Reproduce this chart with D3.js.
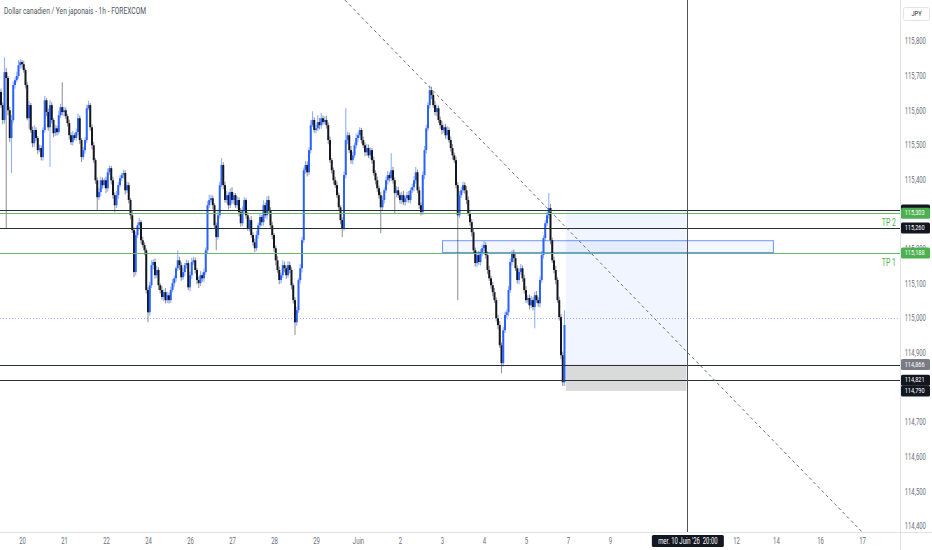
<!DOCTYPE html>
<html>
<head>
<meta charset="utf-8">
<script src="https://cdn.jsdelivr.net/npm/d3@7"></script>
<style>
  body { margin: 0; background: #fff; }
  svg { display: block; }
</style>
</head>
<body>
<div id="chart"></div>
<script>
// CAD/JPY 1h candles (one close per hour, open = previous close)
var title = "Dollar canadien / Yen japonais - 1h - FOREXCOM";
var firstOpen = 115.653;

var closes = [
  115.615, 115.572, 115.710, 115.693, 115.600, 115.520, 115.572, 115.673, 115.687, 115.699, 115.730, 115.739, 115.733, 115.716, 115.673, 115.577, 115.615, 115.543, 115.505, 115.543, 115.520, 115.485, 115.491, 115.465,
  115.543, 115.629, 115.595, 115.551, 115.615, 115.572, 115.534, 115.548, 115.537, 115.586, 115.609, 115.595, 115.600, 115.583, 115.563, 115.528, 115.508, 115.528, 115.520, 115.537, 115.577, 115.514, 115.465, 115.485,
  115.514, 115.606, 115.615, 115.551, 115.499, 115.456, 115.398, 115.349, 115.364, 115.398, 115.384, 115.398, 115.375, 115.421, 115.433, 115.398, 115.355, 115.326, 115.355, 115.384, 115.404, 115.413, 115.419, 115.369,
  115.384, 115.341, 115.297, 115.254, 115.133, 115.240, 115.268, 115.277, 115.225, 115.211, 115.196, 115.081, 115.017, 115.095, 115.153, 115.162, 115.124, 115.139, 115.095, 115.081, 115.061, 115.075, 115.052, 115.066,
  115.052, 115.081, 115.101, 115.115, 115.144, 115.167, 115.153, 115.118, 115.133, 115.153, 115.159, 115.089, 115.124, 115.162, 115.167, 115.139, 115.110, 115.101, 115.124, 115.115, 115.133, 115.196, 115.326, 115.341,
  115.346, 115.326, 115.268, 115.234, 115.297, 115.384, 115.442, 115.384, 115.341, 115.355, 115.326, 115.364, 115.341, 115.355, 115.326, 115.341, 115.306, 115.274, 115.312, 115.341, 115.297, 115.260, 115.283, 115.240,
  115.219, 115.202, 115.240, 115.268, 115.292, 115.277, 115.326, 115.297, 115.341, 115.312, 115.268, 115.240, 115.202, 115.167, 115.139, 115.110, 115.124, 115.153, 115.144, 115.124, 115.153, 115.139, 115.095, 115.052,
  114.988, 115.023, 115.110, 115.144, 115.225, 115.427, 115.442, 115.421, 115.485, 115.557, 115.572, 115.543, 115.548, 115.566, 115.557, 115.577, 115.566, 115.572, 115.557, 115.514, 115.456, 115.427, 115.398, 115.384,
  115.355, 115.320, 115.283, 115.260, 115.413, 115.514, 115.528, 115.485, 115.456, 115.470, 115.499, 115.520, 115.528, 115.543, 115.514, 115.499, 115.479, 115.491, 115.470, 115.485, 115.456, 115.419, 115.398, 115.375,
  115.355, 115.320, 115.341, 115.369, 115.398, 115.413, 115.404, 115.427, 115.398, 115.361, 115.369, 115.355, 115.341, 115.355, 115.335, 115.346, 115.355, 115.341, 115.369, 115.378, 115.398, 115.421, 115.369, 115.326,
  115.306, 115.413, 115.485, 115.548, 115.615, 115.658, 115.644, 115.615, 115.595, 115.606, 115.572, 115.557, 115.543, 115.551, 115.528, 115.543, 115.514, 115.491, 115.470, 115.456, 115.384, 115.297, 115.355, 115.369,
  115.384, 115.369, 115.341, 115.303, 115.277, 115.248, 115.196, 115.159, 115.182, 115.162, 115.191, 115.202, 115.211, 115.182, 115.139, 115.115, 115.095, 115.075, 115.052, 115.000, 114.980, 114.922, 114.870, 114.965,
  115.009, 115.017, 115.081, 115.162, 115.188, 115.173, 115.144, 115.110, 115.133, 115.144, 115.115, 115.081, 115.052, 115.058, 115.037, 115.052, 115.032, 115.066, 115.052, 115.043, 115.110, 115.182, 115.231, 115.274,
  115.297, 115.318, 115.225, 115.167, 115.139, 115.110, 115.052, 115.003, 114.893, 114.815, 114.980
];

// wick lengths above / below the body, in thousandths of a yen
var wickUp = [
  10, 8, 43, 12, 6, 10, 15, 10, 8, 12, 15, 8, 6, 10, 5, 8, 12, 6, 10, 14, 8, 6, 10, 8,
  8, 12, 6, 10, 14, 8, 6, 10, 8, 12, 10, 72, 10, 8, 6, 10, 8, 12, 6, 10, 14, 8, 6, 10,
  8, 10, 12, 6, 8, 10, 6, 8, 12, 10, 8, 6, 10, 12, 8, 6, 10, 8, 12, 10, 8, 6, 10, 8,
  10, 8, 6, 12, 8, 10, 8, 12, 6, 10, 8, 6, 8, 10, 14, 8, 10, 12, 8, 6, 10, 8, 12, 10,
  8, 10, 12, 8, 6, 29, 10, 8, 12, 6, 10, 8, 10, 12, 10, 8, 6, 10, 12, 8, 10, 8, 12, 15,
  10, 8, 6, 8, 12, 10, 20, 8, 10, 12, 8, 10, 14, 8, 6, 10, 8, 12, 10, 8, 6, 10, 8, 12,
  8, 10, 12, 8, 10, 6, 14, 8, 10, 12, 8, 10, 6, 8, 12, 10, 8, 14, 10, 8, 12, 10, 8, 6,
  8, 10, 6, 12, 10, 8, 12, 10, 8, 14, 25, 8, 10, 20, 12, 15, 8, 10, 12, 8, 10, 6, 8, 10,
  10, 8, 6, 8, 10, 92, 10, 8, 12, 10, 8, 12, 10, 8, 6, 10, 8, 12, 10, 8, 6, 10, 8, 10,
  8, 10, 12, 8, 10, 12, 8, 49, 10, 8, 12, 10, 8, 10, 12, 8, 10, 12, 8, 10, 12, 15, 8, 10,
  8, 10, 12, 10, 8, 14, 10, 8, 12, 10, 8, 10, 12, 8, 10, 12, 8, 10, 12, 8, 10, 8, 12, 10,
  10, 8, 12, 10, 8, 10, 12, 8, 10, 12, 8, 10, 12, 8, 10, 12, 8, 10, 12, 8, 10, 12, 8, 10,
  10, 8, 12, 10, 8, 10, 12, 8, 10, 12, 8, 10, 12, 8, 10, 12, 8, 10, 12, 8, 10, 12, 8, 10,
  10, 43, 12, 8, 10, 12, 8, 10, 8, 10, 43
];
var wickDn = [
  8, 12, 10, 436, 14, 12, 101, 8, 10, 6, 8, 10, 12, 8, 10, 6, 30, 8, 12, 10, 8, 12, 6, 10,
  10, 8, 12, 10, 115, 10, 12, 8, 10, 6, 8, 10, 12, 8, 10, 12, 8, 10, 6, 8, 10, 12, 14, 8,
  10, 8, 6, 10, 12, 8, 10, 37, 8, 12, 10, 8, 14, 10, 8, 12, 10, 20, 8, 10, 6, 8, 10, 12,
  8, 10, 12, 8, 15, 10, 8, 12, 10, 8, 14, 10, 29, 10, 8, 12, 10, 8, 14, 10, 8, 12, 10, 8,
  10, 8, 6, 12, 10, 8, 14, 10, 8, 12, 10, 8, 12, 10, 8, 10, 12, 14, 8, 10, 12, 8, 10, 8,
  8, 12, 10, 38, 8, 10, 6, 12, 8, 10, 12, 8, 10, 12, 8, 10, 12, 10, 8, 12, 10, 8, 10, 8,
  10, 12, 8, 10, 8, 12, 10, 8, 12, 10, 8, 12, 10, 14, 8, 12, 10, 8, 12, 10, 8, 10, 12, 10,
  37, 10, 8, 10, 12, 8, 10, 12, 8, 10, 6, 8, 10, 8, 12, 10, 8, 6, 10, 12, 8, 10, 12, 8,
  8, 10, 12, 26, 8, 10, 12, 8, 10, 12, 8, 10, 12, 8, 10, 8, 12, 10, 8, 12, 10, 8, 12, 10,
  10, 75, 8, 10, 8, 12, 10, 8, 10, 58, 12, 8, 10, 12, 8, 10, 12, 8, 10, 8, 12, 10, 8, 10,
  10, 8, 12, 10, 8, 10, 12, 8, 10, 12, 8, 10, 12, 8, 10, 12, 8, 10, 12, 8, 10, 245, 8, 8,
  8, 10, 12, 8, 10, 12, 8, 10, 12, 8, 10, 12, 8, 10, 12, 8, 10, 12, 8, 10, 12, 8, 29, 10,
  8, 10, 12, 8, 10, 12, 8, 10, 12, 8, 10, 10, 8, 10, 12, 8, 10, 61, 8, 10, 12, 8, 10, 8,
  8, 10, 12, 8, 10, 12, 8, 10, 12, 11, 11
];

// bottom axis (positions in trading days)
var dayLabels = ["20", "21", "22", "24", "26", "27", "28", "29", "Juin", "2", "3", "4", "5", "7", "9", "12", "14", "16", "17"];
var dayPos    = [0, 1, 2, 3, 4, 5, 6, 7, 8, 9, 10, 11, 12, 13, 14, 17, 17.95, 19, 20];

var priceTicks = [115.8, 115.7, 115.6, 115.5, 115.4, 115.3, 115.2, 115.1, 115.0, 114.9, 114.8, 114.7, 114.6, 114.5, 114.4];

// drawings
var levels = [
  { p: 115.312, color: "#2a2e39", dash: null },
  { p: 115.303, color: "#66bb6a", dash: null, text: "TP 2" },
  { p: 115.260, color: "#2a2e39", dash: null },
  { p: 115.188, color: "#66bb6a", dash: null, text: "TP 1" },
  { p: 115.000, color: "rgba(41,98,255,0.45)", dash: "1,2" },
  { p: 114.866, color: "#2a2e39", dash: null },
  { p: 114.821, color: "#2a2e39", dash: null }
];
// price tags on the axis; the first one sits under the green TP 2 tag
var axisTags = [
  { p: 115.312, bg: "#131722", hidden: true },
  { p: 115.303, bg: "#4caf50" },
  { p: 115.260, bg: "#131722" },
  { p: 115.188, bg: "#4caf50" },
  { p: 114.866, bg: "#787b86" },
  { p: 114.821, bg: "#131722" },
  { p: 114.790, bg: "#131722" }
];
var trend = [[7.69, 115.918], [20.0, 114.383]];
var position = { from: 12.95, to: 15.82, target: 115.312, entry: 114.866, stop: 114.790 };
var zone = { from: 10, to: 17.88, top: 115.225, bottom: 115.191 };
var cursorDay = 15.83;
var cursorLabel = "mer. 10 Juin '26  20:00";

var W = 932, H = 550, plotW = 900, plotH = 532;
var SX = 0.7; // text is drawn horizontally squeezed, like the screenshot

var x = d3.scaleLinear().domain([0, 20]).range([22, 862]);
var y = d3.scaleLinear().domain([114.4, 115.8]).range([526, 41]);

var fr = d3.formatLocale({ decimal: ",", thousands: " ", grouping: [3], currency: ["", ""] });
var fmt = fr.format(".3f");

var bars = closes.map(function (c, i) {
  var o = i ? closes[i - 1] : firstOpen;
  return {
    d: -0.5 + i / 24,
    o: o,
    c: c,
    h: Math.max(o, c) + wickUp[i] / 1000,
    l: Math.min(o, c) - wickDn[i] / 1000
  };
});

var svg = d3.select("#chart").append("svg").attr("width", W).attr("height", H);

svg.append("defs").append("clipPath").attr("id", "plot")
  .append("rect").attr("width", plotW).attr("height", plotH);

function label(parent, px, py, s, size, color, anchor) {
  return parent.append("text")
    .attr("transform", "translate(" + px + "," + py + ") scale(" + SX + ",1)")
    .attr("text-anchor", anchor || "start")
    .attr("dominant-baseline", "central")
    .attr("font-family", "Roboto, sans-serif")
    .attr("font-size", size + "px")
    .attr("fill", color)
    .style("white-space", "pre")
    .text(s);
}

var plot = svg.append("g").attr("clip-path", "url(#plot)");

// long position tool
plot.append("rect")
  .attr("x", x(position.from)).attr("width", x(position.to) - x(position.from))
  .attr("y", y(position.target)).attr("height", y(position.entry) - y(position.target))
  .attr("fill", "rgba(41,98,255,0.065)");
plot.append("rect")
  .attr("x", x(position.from)).attr("width", x(position.to) - x(position.from))
  .attr("y", y(position.entry)).attr("height", y(position.stop) - y(position.entry))
  .attr("fill", "rgba(120,120,120,0.27)");

// blue rectangle
plot.append("rect")
  .attr("x", x(zone.from) + 0.5).attr("width", x(zone.to) - x(zone.from))
  .attr("y", y(zone.top) + 0.5).attr("height", y(zone.bottom) - y(zone.top))
  .attr("fill", "rgba(41,98,255,0.05)")
  .attr("stroke", "rgba(41,98,255,0.65)")
  .attr("stroke-width", 1);

// candles
var candles = plot.append("g");
candles.selectAll("line.wick")
  .data(bars)
  .enter()
  .append("line")
  .attr("class", "wick")
  .attr("x1", function (b) { return x(b.d); })
  .attr("x2", function (b) { return x(b.d); })
  .attr("y1", function (b) { return y(b.h); })
  .attr("y2", function (b) { return y(b.l); })
  .attr("stroke", function (b) { return b.c >= b.o ? "rgba(41,98,255,0.5)" : "rgba(19,23,34,0.45)"; })
  .attr("stroke-width", 1.1);

candles.selectAll("rect.body")
  .data(bars)
  .enter()
  .append("rect")
  .attr("class", "body")
  .attr("x", function (b) { return x(b.d) - 1; })
  .attr("width", 2)
  .attr("y", function (b) { return y(Math.max(b.o, b.c)); })
  .attr("height", function (b) { return Math.max(1, Math.abs(y(b.o) - y(b.c))); })
  .attr("fill", function (b) { return b.c >= b.o ? "#2962ff" : "#131722"; });

// horizontal levels
plot.selectAll("line.level")
  .data(levels)
  .enter()
  .append("line")
  .attr("class", "level")
  .attr("x1", 0).attr("x2", plotW)
  .attr("y1", function (l) { return Math.round(y(l.p)) + 0.5; })
  .attr("y2", function (l) { return Math.round(y(l.p)) + 0.5; })
  .attr("stroke", function (l) { return l.color; })
  .attr("stroke-dasharray", function (l) { return l.dash; })
  .attr("stroke-width", 1);

levels.filter(function (l) { return l.text; }).forEach(function (l) {
  label(svg, 896, y(l.p) + 9.5, l.text, 10, "#4caf50", "end");
});

// dashed trend line
plot.append("line")
  .attr("x1", x(trend[0][0])).attr("y1", y(trend[0][1]))
  .attr("x2", x(trend[1][0])).attr("y2", y(trend[1][1]))
  .attr("stroke", "#6a6d78")
  .attr("stroke-width", 1)
  .attr("stroke-dasharray", "3,3");

// vertical cursor
svg.append("line")
  .attr("x1", Math.round(x(cursorDay)) + 0.5).attr("x2", Math.round(x(cursorDay)) + 0.5)
  .attr("y1", 0).attr("y2", plotH)
  .attr("stroke", "#50535e").attr("stroke-width", 1);

// title
label(svg, 4, 10.5, title, 9.5, "#50535e", "start");

// price axis: tick labels almost under a tag are not drawn (115,200 stays, half covered)
svg.append("line").attr("x1", plotW + 0.5).attr("x2", plotW + 0.5).attr("y1", 0).attr("y2", H)
  .attr("stroke", "#e0e3eb");
var freeTicks = priceTicks.filter(function (t) {
  return !axisTags.some(function (g) { return Math.abs(y(g.p) - y(t)) < 4; });
});
var yAxis = svg.append("g")
  .attr("transform", "translate(" + plotW + ",0)")
  .call(d3.axisRight(y).tickValues(freeTicks).tickSize(0).tickPadding(4.7 / SX).tickFormat(fmt));
yAxis.select(".domain").remove();
yAxis.selectAll("text")
  .attr("transform", "scale(" + SX + ",1)")
  .attr("font-family", "Roboto, sans-serif")
  .attr("font-size", "8.5px")
  .attr("fill", "#6a6d78");

// time axis
svg.append("line").attr("x1", 0).attr("x2", W).attr("y1", plotH + 0.5).attr("y2", plotH + 0.5)
  .attr("stroke", "#e0e3eb");
var xAxis = svg.append("g")
  .attr("transform", "translate(0," + plotH + ")")
  .call(d3.axisBottom(x).tickValues(dayPos).tickSize(0).tickPadding(5.5)
    .tickFormat(function (d, i) { return dayLabels[i]; }));
xAxis.select(".domain").remove();
xAxis.selectAll("text")
  .attr("transform", "scale(" + SX + ",1)")
  .attr("font-family", "Roboto, sans-serif")
  .attr("font-size", "8.5px")
  .attr("fill", "#6a6d78");

// axis tags
axisTags.forEach(function (t) {
  svg.append("rect")
    .attr("x", plotW + 1).attr("width", 29)
    .attr("y", y(t.p) - 5.5).attr("height", 11)
    .attr("rx", 1.5)
    .attr("fill", t.bg);
  if (!t.hidden) label(svg, 904.7, y(t.p), fmt(t.p), 8, "#ffffff", "start");
});

// cursor time tag
svg.append("rect")
  .attr("x", x(cursorDay) - 35).attr("width", 72)
  .attr("y", plotH + 3).attr("height", 12)
  .attr("rx", 1.5)
  .attr("fill", "#131722");
label(svg, x(cursorDay) + 1, plotH + 9, cursorLabel, 8.5, "#ffffff", "middle");

// currency box
svg.append("rect")
  .attr("x", 903.5).attr("y", 7.5).attr("width", 26).attr("height", 13).attr("rx", 2)
  .attr("fill", "#fff").attr("stroke", "#e0e3eb");
label(svg, 916.5, 14, "JPY", 8, "#131722", "middle");
</script>
</body>
</html>
